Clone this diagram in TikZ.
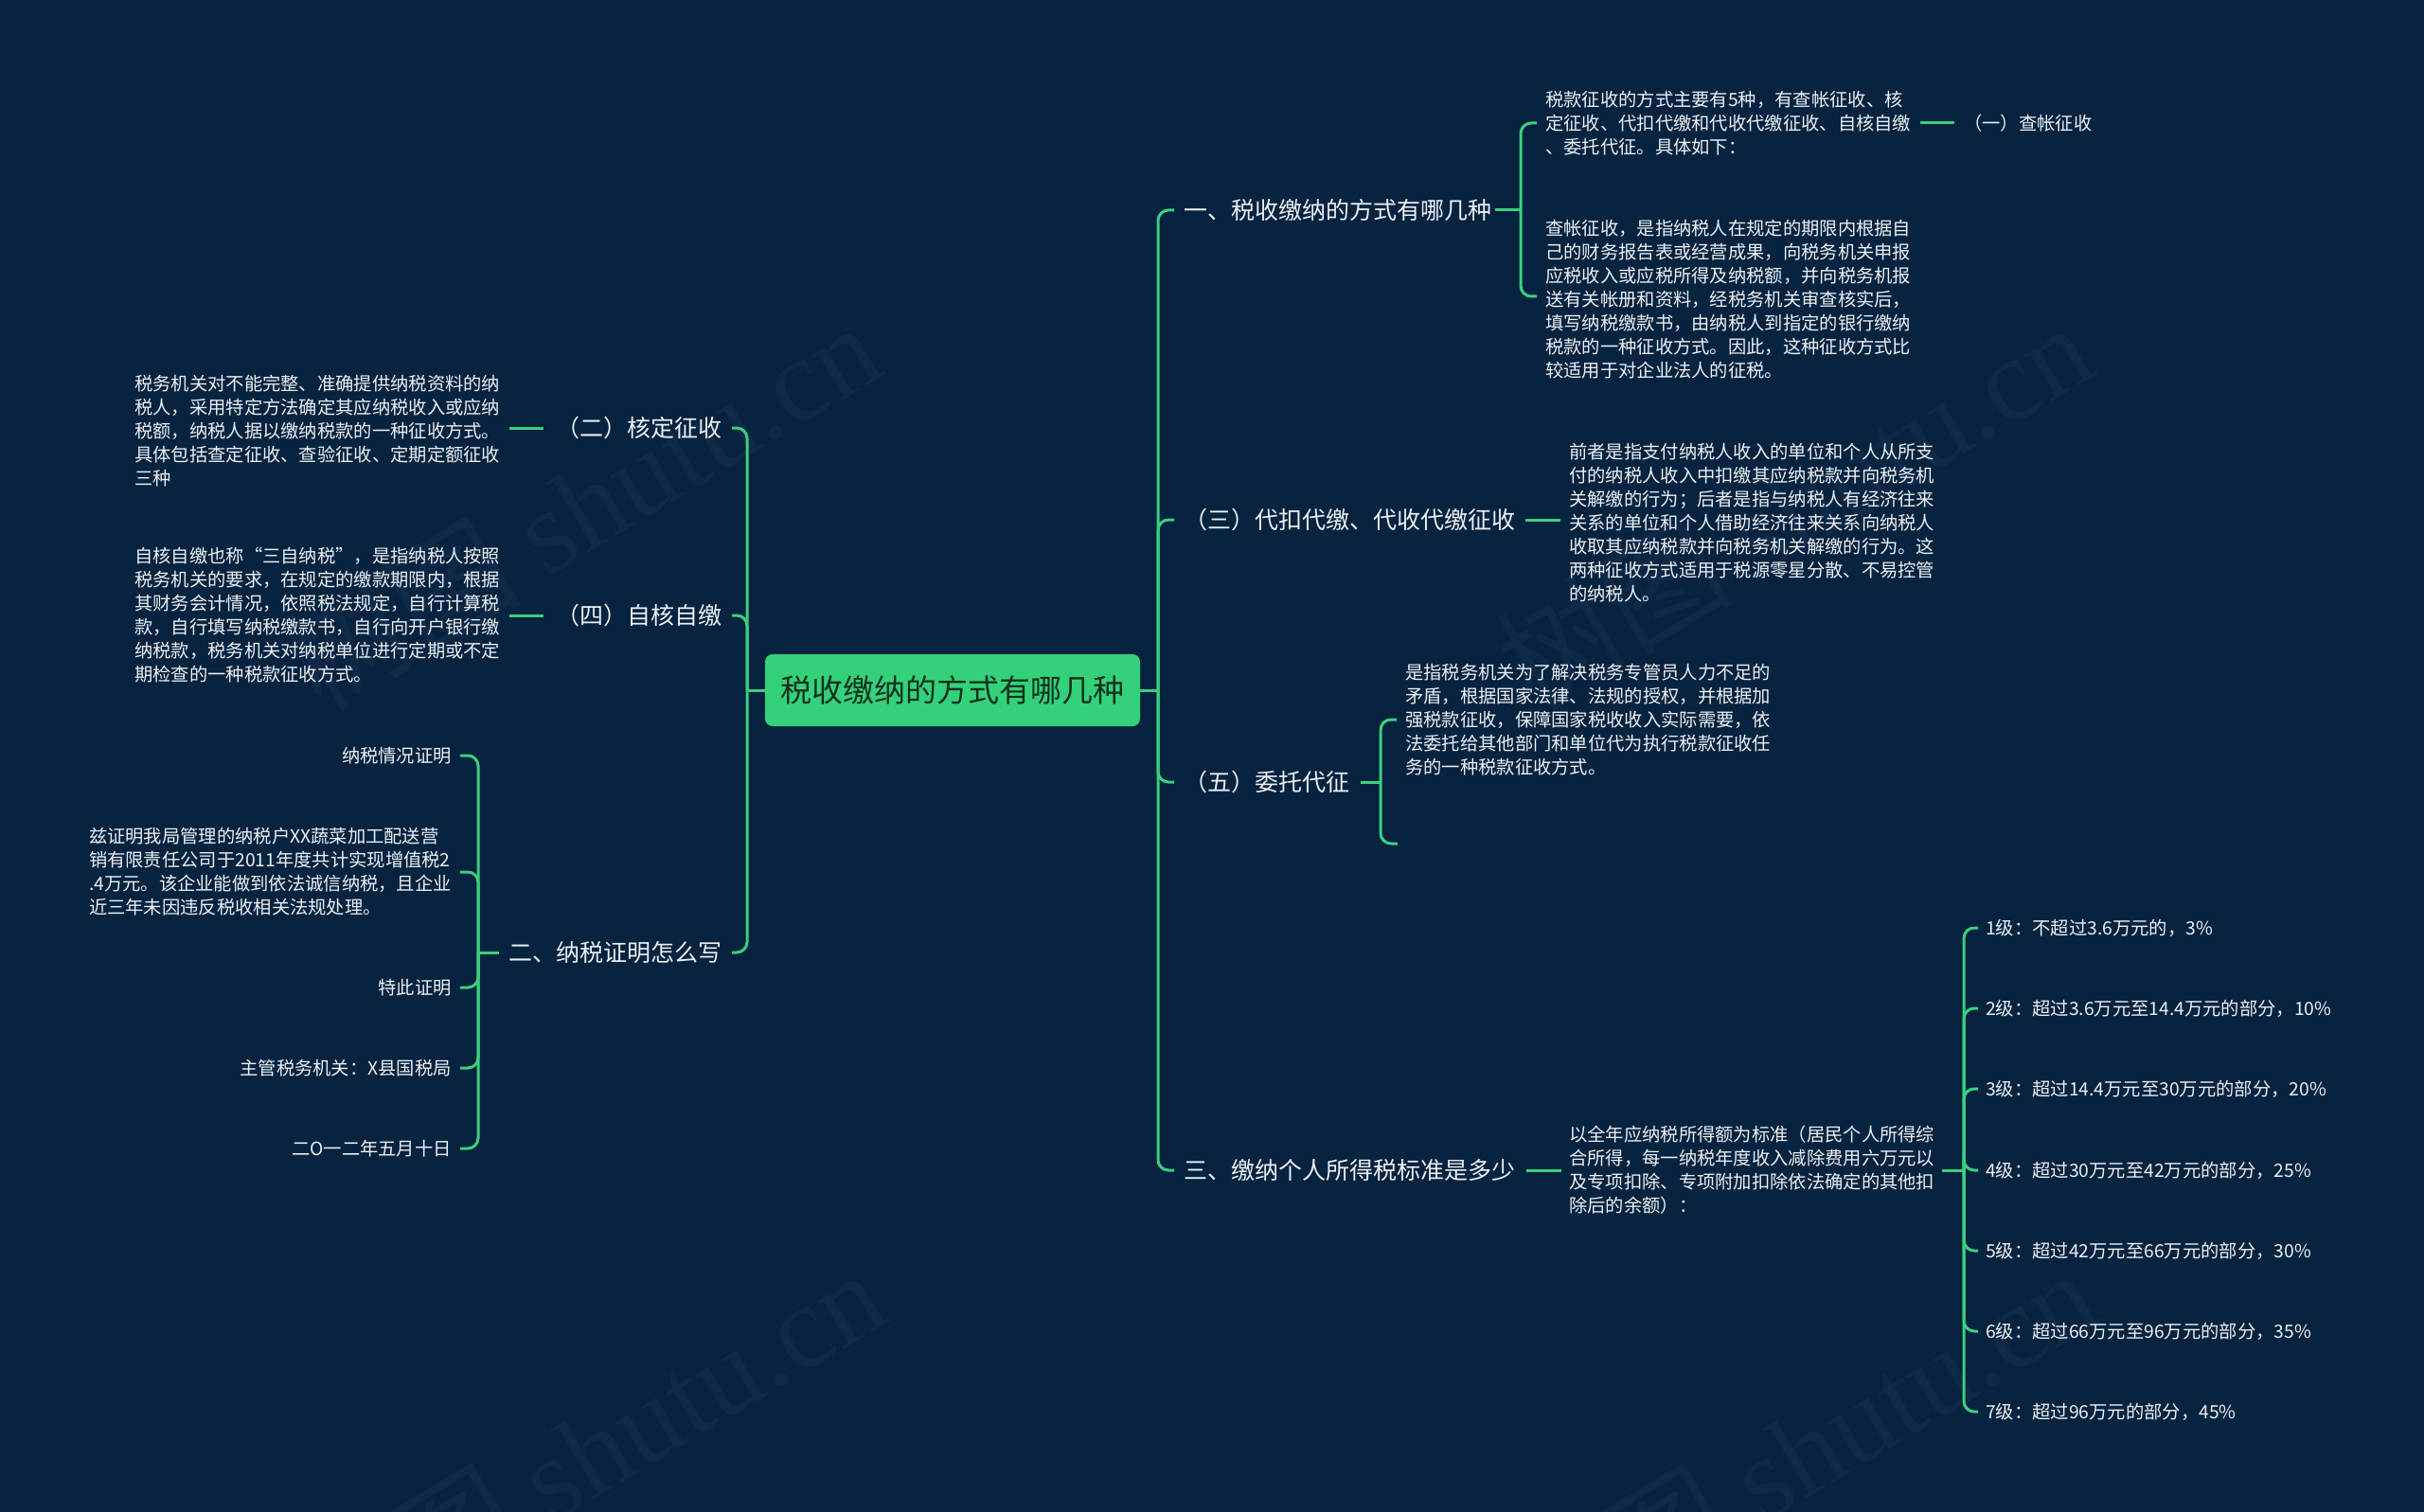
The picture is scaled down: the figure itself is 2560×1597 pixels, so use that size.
\documentclass[tikz,border=0pt]{standalone}
\usepackage{fontspec}
\setmainfont{Noto Sans CJK SC}
\newfontfamily\wmserif{Liberation Serif}
\usetikzlibrary{calc}
\definecolor{bgc}{HTML}{062340}
\definecolor{linec}{HTML}{3CCF7D}
\definecolor{rootc}{HTML}{33D27A}
\definecolor{roottxt}{HTML}{12301F}
\definecolor{txt}{HTML}{EDEFF2}
\definecolor{wmc}{HTML}{0F2A48}
\newcommand\myDetailFont{\fontsize{19.3pt}{25pt}\selectfont}
\newcommand\myMainFont{\fontsize{25pt}{30pt}\selectfont}
\newcommand\myRootFont{\fontsize{33pt}{38pt}\selectfont}
\newcommand\myWmFont{\fontsize{125pt}{125pt}\selectfont}
\tikzset{
  detail/.style={text=txt, font=\myDetailFont, align=left, inner sep=0pt},
  mainnode/.style={text=txt, font=\myMainFont, inner sep=0pt},
  rootnode/.style={fill=rootc, text=roottxt, font=\myRootFont, rounded corners=8pt,
     minimum width=396pt, minimum height=76pt, inner sep=0pt},
  conn/.style={draw=linec, line width=3pt},
  brk/.style={draw=linec, line width=3pt, rounded corners=11pt},
  wm/.style={text=wmc, font=\myWmFont, rotate=31, inner sep=0pt}
}
\begin{document}
\begin{tikzpicture}[x=1pt,y=-1pt]
\fill[bgc] (0,0) rectangle (2560,1597);
\useasboundingbox (0,0) rectangle (2560,1597);

% watermarks
\node[wm] (wm1) at (614,533) {树图 {\wmserif shutu.cn}};
\node[wm] (wm2) at (1894,533) {树图 {\wmserif shutu.cn}};
\node[wm] (wm3) at (619,1533) {树图 {\wmserif shutu.cn}};
\node[wm] (wm4) at (1899,1533) {树图 {\wmserif shutu.cn}};

% root
\node[rootnode] (root) at (1006,729) {税收缴纳的方式有哪几种};

% right main branches
\node[mainnode, anchor=west] (r1) at (1250,222) {一、税收缴纳的方式有哪几种};
\node[mainnode, anchor=west] (r2) at (1250,549) {（三）代扣代缴、代收代缴征收};
\node[mainnode, anchor=west] (r3) at (1250,826) {（五）委托代征};
\node[mainnode, anchor=west] (r4) at (1250,1236) {三、缴纳个人所得税标准是多少};

% left main branches
\node[mainnode, anchor=east] (l1) at (763,452) {（二）核定征收};
\node[mainnode, anchor=east] (l2) at (763,650) {（四）自核自缴};
\node[mainnode, anchor=east] (l3) at (763,1006) {二、纳税证明怎么写};

\coordinate (rb) at (1223,729);
\coordinate (lb) at (789,729);
\draw[conn] (root.east) -- (rb);
\draw[conn] (root.west) -- (lb);
\foreach \n in {r1,r2,r3,r4} {\draw[brk] (rb) |- ([xshift=-10pt]\n.west);}
\foreach \n in {l1,l2,l3} {\draw[brk] (lb) |- ([xshift=10pt]\n.east);}

% r1 children
\node[detail, anchor=west] (r1a) at (1632,130) {税款征收的方式主要有5种，有查帐征收、核\\定征收、代扣代缴和代收代缴征收、自核自缴\\、委托代征。具体如下：};
\node[detail, anchor=west] (r1b) at (1632,316) {查帐征收，是指纳税人在规定的期限内根据自\\己的财务报告表或经营成果，向税务机关申报\\应税收入或应税所得及纳税额，并向税务机报\\送有关帐册和资料，经税务机关审查核实后，\\填写纳税缴款书，由纳税人到指定的银行缴纳\\税款的一种征收方式。因此，这种征收方式比\\较适用于对企业法人的征税。};
\node[detail, anchor=west] (r1a1) at (2074,130) {（一）查帐征收};
\coordinate (r1br) at (1606,222);
\draw[conn] ([xshift=4pt]r1.east) -- (r1br);
\draw[brk] (r1br) |- ([xshift=-9pt]r1a.west);
\draw[brk] (r1br) |- ([xshift=-9pt]r1b.west |- 0,313);
\draw[conn] ([xshift=10pt]r1a.east) -- ([xshift=-10pt]r1a1.west);

% r2 child
\node[detail, anchor=west] (r2a) at (1657,552) {前者是指支付纳税人收入的单位和个人从所支\\付的纳税人收入中扣缴其应纳税款并向税务机\\关解缴的行为；后者是指与纳税人有经济往来\\关系的单位和个人借助经济往来关系向纳税人\\收取其应纳税款并向税务机关解缴的行为。这\\两种征收方式适用于税源零星分散、不易控管\\的纳税人。};
\draw[conn] ([xshift=11pt]r2.east) -- ([xshift=-9pt]r2a.west |- r2.east);

% r3 children
\node[detail, anchor=west] (r3a) at (1484,760) {是指税务机关为了解决税务专管员人力不足的\\矛盾，根据国家法律、法规的授权，并根据加\\强税款征收，保障国家税收收入实际需要，依\\法委托给其他部门和单位代为执行税款征收任\\务的一种税款征收方式。};
\coordinate (r3br) at (1458,826);
\coordinate (r3b) at (1476,891);
\draw[conn] ([xshift=12pt]r3.east) -- (r3br);
\draw[brk] (r3br) |- ([xshift=-9pt]r3a.west);
\draw[brk] (r3br) |- (r3b);

% r4 children
\node[detail, anchor=west] (r4a) at (1657,1236) {以全年应纳税所得额为标准（居民个人所得综\\合所得，每一纳税年度收入减除费用六万元以\\及专项扣除、专项附加扣除依法确定的其他扣\\除后的余额）：};
\draw[conn] ([xshift=12pt]r4.east) -- ([xshift=-8pt]r4a.west);
\coordinate (r4br) at (2074,1236);
\draw[conn] ([xshift=8pt]r4a.east) -- (r4br);
\node[detail, anchor=west] (lv1) at (2097,980) {1级：不超过3.6万元的，3\%};
\node[detail, anchor=west] (lv2) at (2097,1065) {2级：超过3.6万元至14.4万元的部分，10\%};
\node[detail, anchor=west] (lv3) at (2097,1150) {3级：超过14.4万元至30万元的部分，20\%};
\node[detail, anchor=west] (lv4) at (2097,1236) {4级：超过30万元至42万元的部分，25\%};
\node[detail, anchor=west] (lv5) at (2097,1321) {5级：超过42万元至66万元的部分，30\%};
\node[detail, anchor=west] (lv6) at (2097,1406) {6级：超过66万元至96万元的部分，35\%};
\node[detail, anchor=west] (lv7) at (2097,1491) {7级：超过96万元的部分，45\%};
\foreach \n in {lv1,lv2,lv3,lv4,lv5,lv6,lv7} {\draw[brk] (r4br) |- ([xshift=-8pt]\n.west);}

% l1, l2 children
\node[detail, anchor=west] (l1a) at (142,455) {税务机关对不能完整、准确提供纳税资料的纳\\税人，采用特定方法确定其应纳税收入或应纳\\税额，纳税人据以缴纳税款的一种征收方式。\\具体包括查定征收、查验征收、定期定额征收\\三种};
\draw[conn] ([xshift=10pt]l1a.east |- l1.west) -- ([xshift=-14pt]l1.west);
\node[detail, anchor=west] (l2a) at (142,650) {自核自缴也称“三自纳税”，是指纳税人按照\\税务机关的要求，在规定的缴款期限内，根据\\其财务会计情况，依照税法规定，自行计算税\\款，自行填写纳税缴款书，自行向开户银行缴\\纳税款，税务机关对纳税单位进行定期或不定\\期检查的一种税款征收方式。};
\draw[conn] ([xshift=10pt]l2a.east |- l2.west) -- ([xshift=-14pt]l2.west);

% l3 children
\coordinate (l3br) at (505,1006);
\draw[conn] ([xshift=-11pt]l3.west) -- (l3br);
\node[detail, anchor=east] (l3a) at (477,798) {纳税情况证明};
\node[detail, anchor=east] (l3b) at (477,921) {兹证明我局管理的纳税户XX蔬菜加工配送营\\销有限责任公司于2011年度共计实现增值税2\\.4万元。该企业能做到依法诚信纳税，且企业\\近三年未因违反税收相关法规处理。};
\node[detail, anchor=east] (l3c) at (477,1043) {特此证明};
\node[detail, anchor=east] (l3d) at (477,1128) {主管税务机关：X县国税局};
\node[detail, anchor=east] (l3e) at (477,1213) {二O一二年五月十日};
\foreach \n in {l3a,l3b,l3c,l3d,l3e} {\draw[brk] (l3br) |- ([xshift=9pt]\n.east);}
\end{tikzpicture}
\end{document}
